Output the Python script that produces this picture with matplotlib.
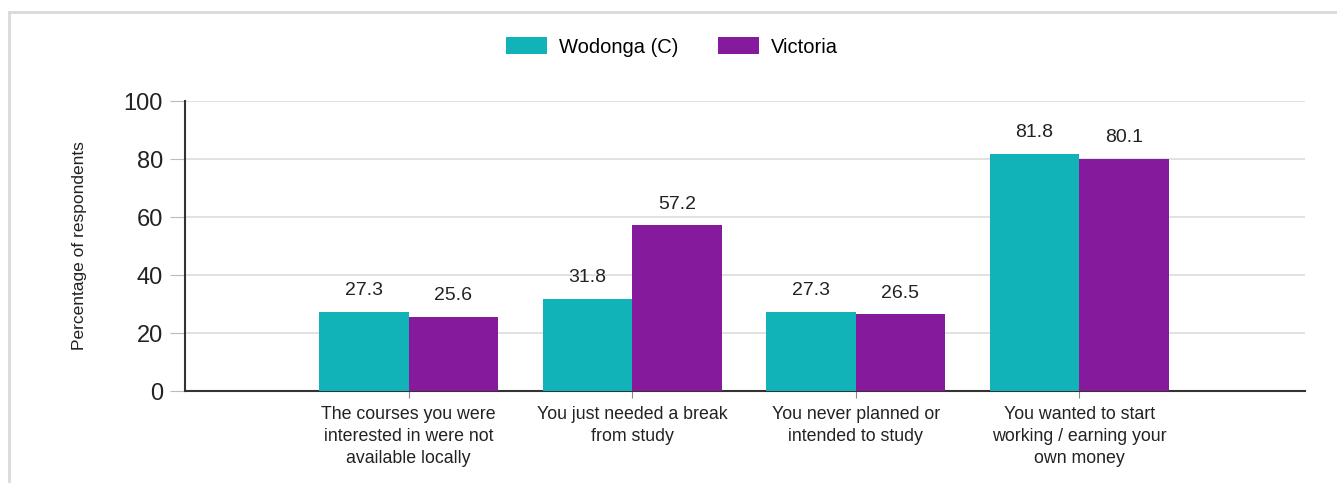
import numpy as np
import matplotlib
matplotlib.use("Agg")
import matplotlib.pyplot as plt
from matplotlib.lines import Line2D

plt.rcParams['font.family'] = ['Liberation Sans', 'DejaVu Sans']

categories = [
    "The courses you were\ninterested in were not\navailable locally",
    "You just needed a break\nfrom study",
    "You never planned or\nintended to study",
    "You wanted to start\nworking / earning your\nown money",
]
wodonga = [27.3, 31.8, 27.3, 81.8]
victoria = [25.6, 57.2, 26.5, 80.1]
series_names = ["Wodonga (C)", "Victoria"]
y_ticks = [0, 20, 40, 60, 80, 100]

TEAL = "#12b2b9"
PURPLE = "#861a9c"
TEXT = "#222222"

fig = plt.figure(figsize=(13.37, 4.83), dpi=100)
ax = fig.add_axes([185 / 1337, 1 - 391 / 483, 1120 / 1337, 290 / 483])

x = np.arange(len(categories))
w = 0.4
b1 = ax.bar(x - w / 2, wodonga, w, color=TEAL, label=series_names[0], zorder=3)
b2 = ax.bar(x + w / 2, victoria, w, color=PURPLE, label=series_names[1], zorder=3)

for bars, vals in ((b1, wodonga), (b2, victoria)):
    for bar, v in zip(bars, vals):
        ax.annotate(f"{v:.1f}", (bar.get_x() + bar.get_width() / 2, v),
                    xytext=(0, 9), textcoords="offset points",
                    ha="center", va="bottom", fontsize=14, color=TEXT)

ax.set_xlim(-1, 4.01)
ax.set_ylim(0, 100)
ax.set_yticks(y_ticks)
ax.set_yticklabels([str(t) for t in y_ticks], fontsize=17, color=TEXT)
ax.set_xticks(x)
ax.set_xticklabels(categories, fontsize=12.8, color=TEXT, linespacing=1.38)
ax.tick_params(axis='y', length=11, color="#bbbbbb", pad=5)
ax.tick_params(axis='x', length=5, color="#888888", pad=6)
ax.yaxis.grid(True, color="#dddddd", linewidth=1.2, zorder=0)
ax.set_axisbelow(True)

for s in ("top", "right"):
    ax.spines[s].set_visible(False)
ax.spines["left"].set_color("#333333")
ax.spines["left"].set_linewidth(1.5)
ax.spines["bottom"].set_color("#333333")
ax.spines["bottom"].set_linewidth(1.5)

ax.set_ylabel("Percentage of respondents", fontsize=12.5, color=TEXT, labelpad=26)

fig.legend(handles=[b1, b2], labels=series_names, loc="center",
           bbox_to_anchor=(672 / 1337, 1 - 47 / 483), ncol=2, frameon=False,
           fontsize=14.5, handlelength=2.0, handleheight=0.9, columnspacing=2.0,
           handletextpad=0.6)

# outer frame (top and left edges visible)
fig.add_artist(Line2D([9 / 1337, 9 / 1337], [0, 1 - 12 / 483],
                      transform=fig.transFigure, color="#d9d9d9", linewidth=2))
fig.add_artist(Line2D([9 / 1337, 1], [1 - 12 / 483, 1 - 12 / 483],
                      transform=fig.transFigure, color="#d9d9d9", linewidth=2))

fig.savefig("out.png", dpi=100)
